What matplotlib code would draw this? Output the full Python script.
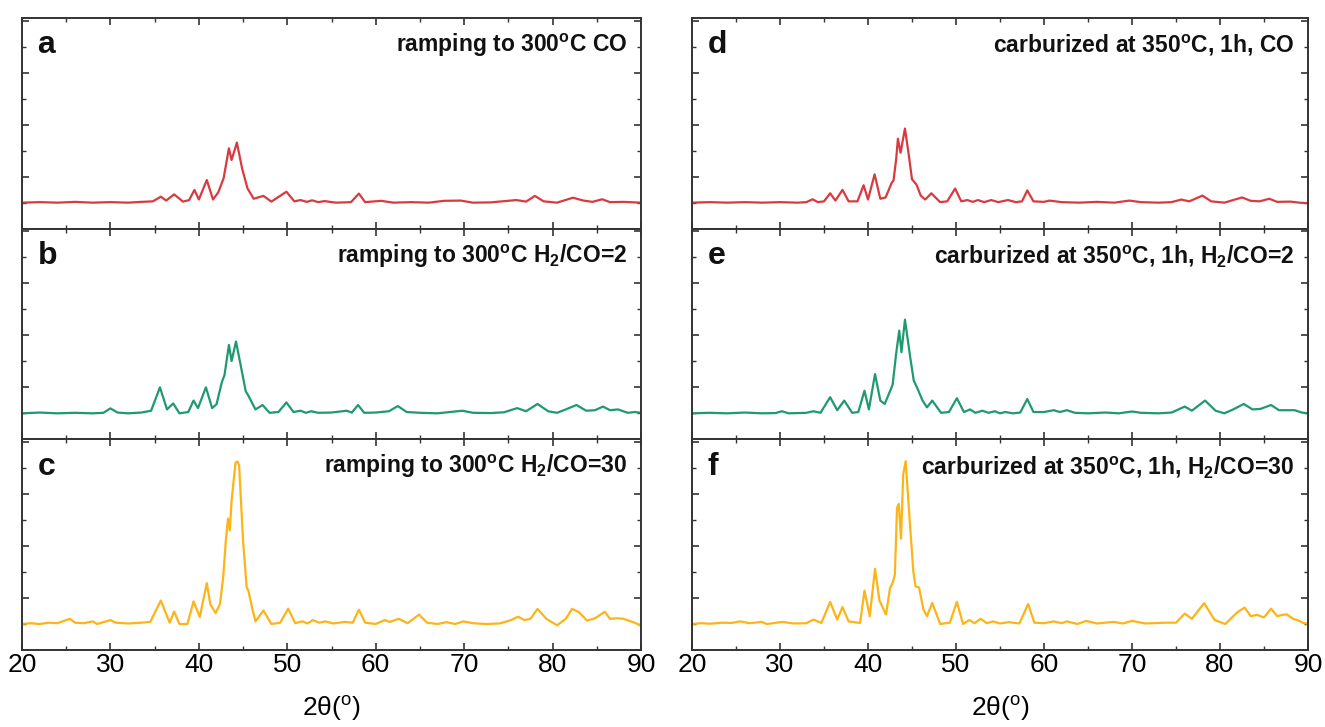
import matplotlib
matplotlib.use("Agg")
import matplotlib.pyplot as plt
from matplotlib.ticker import MultipleLocator

plt.rcParams['font.family'] = ['Liberation Sans', 'DejaVu Sans']
plt.rcParams['mathtext.fontset'] = 'custom'
plt.rcParams['mathtext.rm'] = 'Liberation Sans'
plt.rcParams['mathtext.bf'] = 'Liberation Sans:bold'

# ---------------- data (2theta in degrees, intensity in a.u.) ----------------
a_x = [20, 22, 24, 26, 28, 30, 32, 33.5, 34.8, 35.7, 36.3, 37.2, 38.2, 38.9, 39.5, 40.0, 40.9, 41.6, 42.2,
       42.8, 43.4, 43.7, 44.3, 44.9, 45.5, 46.2, 47.3, 48.2, 49.9, 50.8, 51.5, 52.2, 52.8, 53.5, 54.2, 55.5,
       57.2, 58.1, 58.8, 60.6, 62, 64, 66, 67.7, 69.6, 71, 73, 75.9, 77, 78.0, 79, 80.5, 82.3, 83.5, 84.5,
       85.6, 86.5, 88, 90]
a_y = [1.0, 1.02, 1.0, 1.03, 1.0, 1.02, 1.0, 1.03, 1.05, 1.23, 1.08, 1.32, 1.04, 1.1, 1.49, 1.12, 1.87, 1.12, 1.4,
       1.94, 3.09, 2.64, 3.31, 2.3, 1.55, 1.15, 1.26, 1.04, 1.42, 1.05, 1.1, 1.03, 1.09, 1.02, 1.06, 1.0,
       1.02, 1.35, 1.02, 1.07, 1.0, 1.02, 1.0, 1.07, 1.08, 1.0, 1.01, 1.1, 1.04, 1.26, 1.05, 1.0, 1.19, 1.08, 1.03,
       1.13, 1.02, 1.03, 1.0]

b_x = [20, 22, 24, 26, 28, 29.2, 30.0, 30.8, 32, 33.5, 34.6, 35.6, 36.4, 37.1, 37.8, 38.8, 39.4, 39.9, 40.8,
       41.5, 42.0, 42.6, 42.9, 43.4, 43.7, 44.2, 44.7, 45.3, 45.6, 46.4, 47.2, 48.0, 49.0, 49.9, 50.7, 51.5,
       52.1, 52.7, 53.5, 55, 56.7, 57.3, 58.0, 58.7, 60, 61.5, 62.5, 63.5, 65, 67, 69.8, 71, 73, 74.5, 76.0,
       77, 78.3, 79.5, 80.5, 81.5, 82.7, 83.8, 84.8, 85.7, 86.5, 87.4, 88.5, 89.3, 90]
b_y = [1.0, 1.03, 1.0, 1.02, 1.0, 1.02, 1.19, 1.03, 1.0, 1.03, 1.1, 2.0, 1.15, 1.38, 1.0, 1.05, 1.49, 1.2, 2.0,
       1.2, 1.35, 2.2, 2.47, 3.63, 3.01, 3.76, 2.9, 1.85, 1.68, 1.15, 1.32, 1.02, 1.05, 1.42, 1.05, 1.1,
       1.02, 1.08, 1.02, 1.03, 1.1, 1.03, 1.32, 1.02, 1.03, 1.08, 1.28, 1.05, 1.02, 1.0, 1.1, 1.02, 1.01, 1.04, 1.2,
       1.08, 1.36, 1.08, 1.02, 1.15, 1.32, 1.1, 1.12, 1.26, 1.12, 1.15, 1.02, 1.05, 1.02]

c_x = [20, 21, 22, 23, 24, 25.4, 26, 27, 28, 28.5, 30, 30.6, 32, 33.5, 34.5, 35.7, 36.7, 37.2, 37.8, 38.7,
       39.4, 40.1, 40.9, 41.3, 41.9, 42.4, 42.75, 43.05, 43.3, 43.5, 43.7, 44.15, 44.35, 44.55, 45.0, 45.4,
       45.6, 46.0, 46.4, 47.3, 48.2, 49.2, 50.1, 50.9, 51.7, 52.3, 52.9, 53.6, 54.3, 55.2, 56.5, 57.4, 58.1,
       58.8, 60, 61.0, 61.6, 62.6, 63.6, 64.9, 65.8, 67, 68.0, 69, 69.9, 71, 72.5, 74, 75.3, 76.1, 76.8, 77.5,
       78.3, 79.3, 80.5, 81.5, 82.2, 83.0, 83.9, 84.8, 85.9, 86.5, 87.3, 88.0, 89.3, 90]
c_y = [1.0, 1.03, 1.0, 1.05, 1.03, 1.2, 1.05, 1.03, 1.1, 1.0, 1.15, 1.05, 1.02, 1.05, 1.08, 1.9, 1.05, 1.48, 1.0, 1.0,
       1.87, 1.27, 2.57, 1.75, 1.42, 1.78, 2.8, 4.2, 5.05, 4.6, 5.75, 7.2, 7.25, 7.1, 4.2, 2.42,
       2.28, 1.65, 1.1, 1.52, 1.0, 1.05, 1.59, 1.03, 1.1, 1.02, 1.15, 1.05, 1.1, 1.02, 1.08, 1.05, 1.55,
       1.05, 1.0, 1.15, 1.08, 1.2, 1.03, 1.36, 1.05, 1.0, 1.07, 1.0, 1.1, 1.03, 1.0, 1.02, 1.15, 1.28, 1.15, 1.2,
       1.58, 1.2, 0.95, 1.2, 1.58, 1.45, 1.13, 1.22, 1.47, 1.2, 1.22, 1.2, 1.05, 0.93]

d_x = [20, 22, 24, 26, 28, 30, 32, 33.0, 33.7, 34.3, 35.0, 35.7, 36.3, 37.1, 37.8, 38.8, 39.5, 40.0, 40.75,
       41.4, 42.0, 42.7, 42.9, 43.2, 43.4, 43.7, 44.2, 44.6, 45.0, 45.5, 46.0, 46.5, 47.2, 48.2, 49.0, 49.9,
       50.6, 51.3, 51.9, 52.5, 53.2, 54.0, 54.8, 55.9, 56.8, 57.5, 58.1, 58.8, 60, 60.6, 62, 64, 66, 68, 69.7,
       71, 73, 74.5, 75.6, 76.5, 78.0, 79, 80.5, 81.5, 82.5, 83.5, 84.5, 85.6, 86.5, 88, 89, 90]
d_y = [1.0, 1.02, 1.0, 1.02, 1.0, 1.02, 1.0, 1.02, 1.13, 1.02, 1.05, 1.36, 1.08, 1.49, 1.05, 1.05, 1.67, 1.12, 2.09,
       1.15, 1.2, 1.77, 1.85, 2.67, 3.46, 2.92, 3.85, 2.92, 1.9, 1.7, 1.27, 1.12, 1.36, 1.02, 1.05, 1.54,
       1.05, 1.1, 1.03, 1.1, 1.02, 1.1, 1.02, 1.1, 1.02, 1.05, 1.47, 1.05, 1.03, 1.08, 1.02, 1.0, 1.03, 1.0, 1.08,
       1.02, 1.0, 1.02, 1.12, 1.05, 1.27, 1.05, 1.0, 1.1, 1.2, 1.07, 1.05, 1.15, 1.03, 1.04, 1.0, 0.98]

e_x = [20, 22, 24, 26, 28, 29.5, 30.2, 31, 33, 33.8, 34.6, 35.7, 36.5, 37.3, 38.2, 38.9, 39.6, 40.1, 40.8,
       41.4, 41.9, 42.5, 42.8, 43.2, 43.55, 43.8, 44.2, 44.8, 45.2, 45.6, 46.2, 46.7, 47.3, 48.3, 49.2, 50.1,
       50.9, 51.6, 52.2, 53.0, 53.7, 54.4, 55.0, 55.6, 56.5, 57.3, 58.1, 58.8, 60, 61.1, 61.8, 62.6, 63.5, 65,
       67, 68.5, 70, 71, 73, 74.5, 76.0, 76.8, 78.3, 79.5, 80.5, 81.5, 82.7, 83.7, 84.6, 85.8, 86.7, 87.5,
       88.5, 89.3, 90]
e_y = [1.0, 1.02, 1.0, 1.03, 1.0, 1.01, 1.08, 1.0, 1.02, 1.08, 1.02, 1.62, 1.12, 1.49, 1.02, 1.05, 1.87, 1.15, 2.51,
       1.49, 1.36, 1.85, 2.1, 3.3, 4.18, 3.35, 4.6, 3.15, 2.26, 1.97, 1.49, 1.23, 1.49, 1.02, 1.05, 1.58,
       1.05, 1.15, 1.02, 1.1, 1.02, 1.08, 1.0, 1.05, 1.0, 1.03, 1.55, 1.05, 1.05, 1.12, 1.05, 1.12, 1.02, 1.0,
       1.03, 1.0, 1.07, 1.02, 1.0, 1.03, 1.26, 1.1, 1.49, 1.1, 1.0, 1.15, 1.36, 1.15, 1.17, 1.32, 1.12, 1.12,
       1.12, 1.03, 1.0]

f_x = [20, 21, 22, 23.5, 24.5, 25.5, 26.5, 27.9, 28.5, 30.3, 31.5, 33, 33.8, 34.7, 35.7, 36.5, 37.1, 37.8,
       39.1, 39.6, 40.2, 40.8, 41.3, 42.05, 42.5, 42.8, 43.05, 43.3, 43.5, 43.75, 44.0, 44.28, 44.77, 45.15,
       45.4, 45.8, 46.3, 46.7, 47.3, 48.2, 49.3, 50.1, 50.8, 51.5, 52.1, 52.8, 53.5, 54.2, 55.0, 56.0, 57.2,
       58.2, 58.9, 60, 61.1, 62, 62.6, 63.8, 64.8, 66, 67.9, 69, 70.0, 71.5, 73.8, 75, 76.0, 76.8, 78.2, 79.4,
       80.6, 82.0, 82.8, 83.5, 84.2, 85.0, 85.8, 86.5, 87.1, 87.6, 88.3, 88.8, 89.4, 90]
f_y = [1.0, 1.03, 1.01, 1.05, 1.04, 1.1, 1.03, 1.08, 1.0, 1.08, 1.02, 1.03, 1.17, 1.04, 1.85, 1.17, 1.65, 1.1,
       1.04, 2.28, 1.3, 3.12, 1.9, 1.36, 2.38, 2.58, 2.9, 5.46, 5.62, 4.28, 6.75, 7.26, 4.82, 3.03,
       2.45, 2.4, 1.56, 1.3, 1.81, 1.0, 1.05, 1.85, 1.0, 1.15, 1.03, 1.2, 1.03, 1.1, 1.02, 1.07, 1.02,
       1.77, 1.05, 1.03, 1.1, 1.03, 1.1, 1.0, 1.12, 1.02, 1.08, 1.02, 1.12, 1.02, 1.05, 1.05, 1.4, 1.2, 1.8, 1.15,
       1.0, 1.46, 1.63, 1.3, 1.35, 1.25, 1.59, 1.3, 1.35, 1.37, 1.2, 1.15, 1.05, 1.0]

letters = ['a', 'b', 'c', 'd', 'e', 'f']
titles = [r'ramping to 300$^\mathbf{o}$C CO',
          r'ramping to 300$^\mathbf{o}$C H$_\mathbf{2}$/CO=2',
          r'ramping to 300$^\mathbf{o}$C H$_\mathbf{2}$/CO=30',
          r'carburized at 350$^\mathbf{o}$C, 1h, CO',
          r'carburized at 350$^\mathbf{o}$C, 1h, H$_\mathbf{2}$/CO=2',
          r'carburized at 350$^\mathbf{o}$C, 1h, H$_\mathbf{2}$/CO=30']
series = [(a_x, a_y), (b_x, b_y), (c_x, c_y), (d_x, d_y), (e_x, e_y), (f_x, f_y)]
colors = ['#d93a40', '#1f9a6e', '#fcb417', '#d93a40', '#1f9a6e', '#fcb417']
xticks = [20, 30, 40, 50, 60, 70, 80, 90]

# ---------------- figure ----------------
fig = plt.figure(figsize=(13.25, 7.27), dpi=100)
W, H = 1325, 727
cols = [(22, 641), (692, 1308)]
top, bottom = 18, 650
row_h = (bottom - top) / 3

axes = []
for ci, (x0, x1) in enumerate(cols):
    for ri in range(3):
        y_top = top + ri * row_h
        ax = fig.add_axes([x0 / W, 1 - (y_top + row_h) / H, (x1 - x0) / W, row_h / H])
        axes.append(ax)

for i, ax in enumerate(axes):
    xs, ys = series[i]
    ax.plot(xs, ys, color=colors[i], lw=1.6)
    ax.set_xlim(20, 90)
    ax.set_ylim(0, 8.1)
    ax.xaxis.set_major_locator(MultipleLocator(10))
    ax.xaxis.set_minor_locator(MultipleLocator(5))
    ax.yaxis.set_major_locator(MultipleLocator(2))
    ax.yaxis.set_minor_locator(MultipleLocator(1))
    ax.tick_params(which='both', direction='in', top=True, right=True, color='#333333')
    ax.tick_params(which='major', length=5, width=1.2)
    ax.tick_params(which='minor', length=3, width=1.0)
    ax.set_yticklabels([])
    for sp in ax.spines.values():
        sp.set_color('#333333')
        sp.set_linewidth(1.4)
    if i % 3 == 2:
        ax.set_xticks(xticks)
        ax.set_xticklabels([str(t) for t in xticks], fontsize=19)
        ax.tick_params(axis='x', pad=2)
        ax.set_xlabel(r'2θ($^{\mathrm{o}}$)', fontsize=19, labelpad=12)
    else:
        ax.set_xticklabels([])
    ax.text(0.025, 0.87, letters[i], transform=ax.transAxes, fontsize=23, fontweight='bold',
            ha='left', va='center', color='#111111')
    ax.text(0.978, 0.87, titles[i], transform=ax.transAxes, fontsize=16.5, fontweight='bold',
            ha='right', va='center', color='#111111')

fig.savefig('out.png', dpi=100)
